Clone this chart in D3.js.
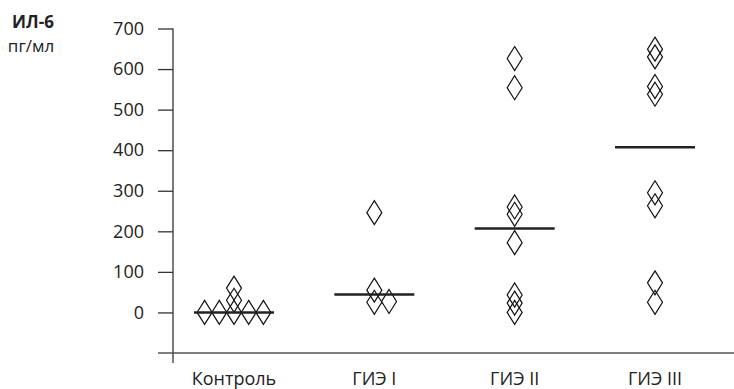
<!DOCTYPE html>
<html>
<head>
<meta charset="utf-8">
<script src="https://cdn.jsdelivr.net/npm/d3@7"></script>
<style>
  body { margin: 0; background: #fff; }
  svg { display: block; font-family: "Open Sans", sans-serif; }
</style>
</head>
<body>
<svg id="chart" width="734" height="389"></svg>
<script>
const categories = ['Контроль', 'ГИЭ I', 'ГИЭ II', 'ГИЭ III'];
const controlValues = [0, 0, 0, 0, 0, 30, 60];
const gie1Values = [246, 55, 25, 27];
const gie2Values = [626, 554, 260, 242, 172, 43, 23, 0];
const gie3Values = [649, 630, 557, 538, 295, 263, 73, 25];
const medians = [0, 44, 207, 407];
const yTicks = [0, 100, 200, 300, 400, 500, 600, 700];

const groups = [controlValues, gie1Values, gie2Values, gie3Values];

const svg = d3.select('#chart');

const x = d3.scalePoint().domain(categories).range([234, 655]);
const y = d3.scaleLinear().domain([-100, 700]).range([353, 28.5]);

// axis lines
svg.append('line')
  .attr('x1', 173).attr('x2', 173)
  .attr('y1', y(700)).attr('y2', 363)
  .attr('stroke', '#333').attr('stroke-width', 1.3);

svg.append('line')
  .attr('x1', 158).attr('x2', 734)
  .attr('y1', y(-100)).attr('y2', y(-100))
  .attr('stroke', '#555').attr('stroke-width', 1.5);

const yAxis = svg.append('g')
  .attr('transform', 'translate(173,0)')
  .call(d3.axisLeft(y).tickValues(yTicks).tickSize(15).tickPadding(14));
yAxis.select('.domain').remove();
yAxis.selectAll('.tick line').attr('stroke', '#333').attr('stroke-width', 1.3);
yAxis.selectAll('.tick text')
  .attr('font-size', 18).attr('fill', '#222')
  .attr('font-family', '"Open Sans", sans-serif');

// category labels
svg.append('g').selectAll('text')
  .data(categories)
  .join('text')
  .attr('x', d => x(d))
  .attr('y', 385)
  .attr('text-anchor', 'middle')
  .attr('font-size', 18)
  .attr('fill', '#222')
  .text(d => d);

// title
svg.append('text')
  .attr('x', 33).attr('y', 28)
  .attr('text-anchor', 'middle')
  .attr('font-size', 17).attr('font-weight', 'bold').attr('fill', '#222')
  .text('ИЛ-6');
svg.append('text')
  .attr('x', 31).attr('y', 52)
  .attr('text-anchor', 'middle')
  .attr('font-size', 17).attr('fill', '#222')
  .text('пг/мл');

// dodge points that sit on (nearly) the same value
const laneW = 14.7;
const laneOrder = [0, 1, -1, 2, -2, 3, -3];
const points = [];
groups.forEach((vals, gi) => {
  const placed = [];
  [...vals].sort((a, b) => a - b).forEach(v => {
    const py = y(v);
    let lane = laneOrder.find(l => !placed.some(p => p.lane === l && Math.abs(p.py - py) < 4));
    placed.push({ lane, py });
    points.push({ cat: categories[gi], value: v, lane });
  });
});

const dw = 7.5, dh = 12;
const diamond = `M0,${-dh}L${dw},0L0,${dh}L${-dw},0Z`;

svg.append('g').selectAll('path')
  .data(points)
  .join('path')
  .attr('transform', d => `translate(${x(d.cat) + d.lane * laneW},${y(d.value)})`)
  .attr('d', diamond)
  .attr('fill', 'none')
  .attr('stroke', '#111')
  .attr('stroke-width', 1.2);

// median bars
svg.append('g').selectAll('line')
  .data(medians)
  .join('line')
  .attr('x1', (d, i) => x(categories[i]) - 40)
  .attr('x2', (d, i) => x(categories[i]) + 40)
  .attr('y1', d => y(d))
  .attr('y2', d => y(d))
  .attr('stroke', '#222')
  .attr('stroke-width', 2.5);
</script>
</body>
</html>
